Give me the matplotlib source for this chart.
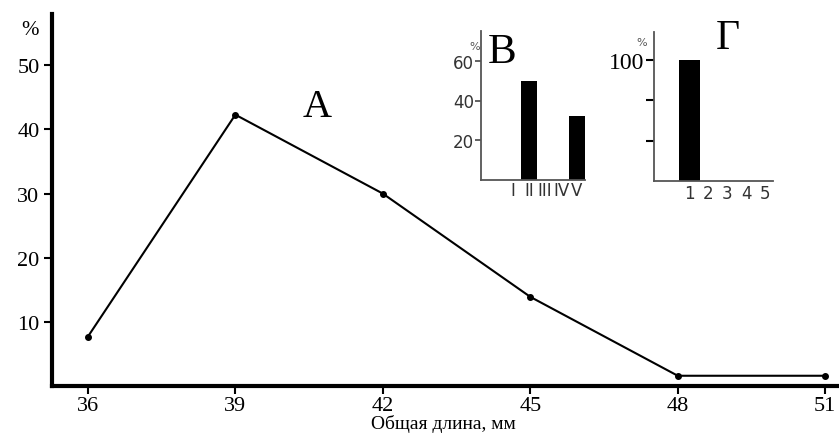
import matplotlib.pyplot as plt

# main curve: total length distribution
length_mm = [36, 39, 42, 45, 48, 51]
share_pct = [7.7, 42.3, 30.0, 13.9, 1.6, 1.6]

# inset B
b_labels = ["I", "II", "III", "IV", "V"]
b_values = [0, 50, 0, 0, 32]

# inset Г
g_labels = ["1", "2", "3", "4", "5"]
g_values = [100, 0, 0, 0, 0]

serif = "Liberation Serif"
sans = "DejaVu Sans"

fig = plt.figure(figsize=(8.39, 4.35), dpi=100)

ax = fig.add_axes([0.062, 0.1103, 0.938, 0.8552])
ax.plot(length_mm, share_pct, color="black", lw=1.5, marker="o", ms=4)
ax.set_xlim(35.27, 51.28)
ax.set_ylim(0, 58)
ax.set_xticks(length_mm)
ax.set_yticks([10, 20, 30, 40, 50])
for s in ["top", "right"]:
    ax.spines[s].set_visible(False)
for s in ["left", "bottom"]:
    ax.spines[s].set_linewidth(3)
ax.tick_params(axis="both", direction="out", length=6, width=1.5, pad=3)
ax.tick_params(axis="x", pad=1)
for lab in ax.get_yticklabels():
    lab.set_fontfamily(serif)
    lab.set_fontsize(16)
for lab in ax.get_xticklabels():
    lab.set_fontfamily(serif)
    lab.set_fontsize(16)
fig.text(0.528, 0.005, "Общая длина, мм", fontfamily=serif, fontsize=14,
         ha="center", va="bottom")
fig.text(0.036, 0.93, "%", fontfamily=serif, fontsize=15, ha="center", va="center")
fig.text(0.378, 0.754, "А", fontfamily=serif, fontsize=29, ha="center", va="center")

gray = "#555555"

# inset B
axb = fig.add_axes([0.5733, 0.584, 0.124, 0.3425])
axb.bar(range(len(b_labels)), b_values, width=1.0, color="black")
axb.set_xlim(-2, 4.5)
axb.set_ylim(0, 75)
axb.set_yticks([20, 40, 60])
axb.set_xticks(range(len(b_labels)))
axb.set_xticklabels(b_labels, fontfamily=sans, fontsize=12, color="#333333")
for lab in axb.get_yticklabels():
    lab.set_fontfamily(sans)
    lab.set_fontsize(12)
    lab.set_color("#333333")
for s in ["top", "right"]:
    axb.spines[s].set_visible(False)
for s in ["left", "bottom"]:
    axb.spines[s].set_linewidth(1.3)
    axb.spines[s].set_color(gray)
axb.tick_params(axis="y", direction="out", length=4, width=1.3, color=gray, pad=1)
axb.tick_params(axis="x", direction="out", length=0, pad=1)
axb.patch.set_alpha(0)
fig.text(0.566, 0.893, "%", fontfamily=sans, fontsize=8, color=gray, ha="center", va="center")
fig.text(0.598, 0.878, "В", fontfamily=serif, fontsize=31, ha="center", va="center")

# inset Г
axg = fig.add_axes([0.7795, 0.5816, 0.1418, 0.3425])
axg.bar([1, 2, 3, 4, 5], g_values, width=1.1, color="black")
axg.set_xlim(-0.85, 5.4)
axg.set_ylim(0, 123)
axg.set_yticks([100 / 3, 200 / 3, 100])
axg.set_yticklabels(["", "", "100"], fontfamily=serif, fontsize=17)
axg.set_xticks([1, 2, 3, 4, 5])
axg.set_xticklabels(g_labels, fontfamily=sans, fontsize=12, color="#333333")
for s in ["top", "right"]:
    axg.spines[s].set_visible(False)
for s in ["left", "bottom"]:
    axg.spines[s].set_linewidth(1.3)
    axg.spines[s].set_color(gray)
axg.tick_params(axis="y", direction="out", length=6, width=1.5, color="black", pad=1)
axg.tick_params(axis="x", direction="out", length=0, pad=2)
axg.patch.set_alpha(0)
fig.text(0.765, 0.9, "%", fontfamily=sans, fontsize=8, color=gray, ha="center", va="center")
fig.text(0.867, 0.91, "Г", fontfamily=serif, fontsize=30, ha="center", va="center")

fig.savefig("out.png", dpi=100)
